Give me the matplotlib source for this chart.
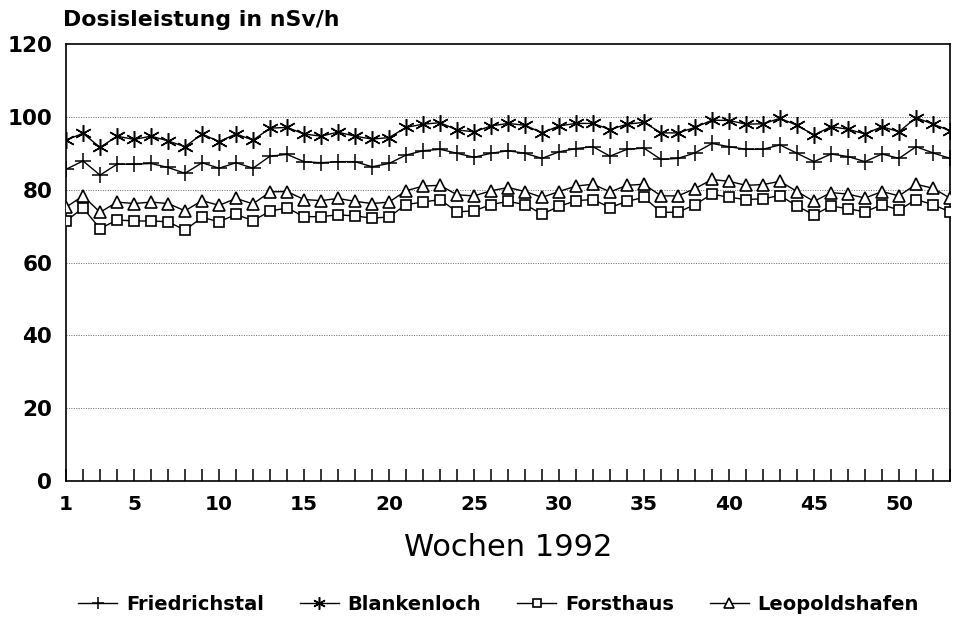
import matplotlib
matplotlib.use("Agg")
import matplotlib.pyplot as plt
import numpy as np

plt.rcParams['font.family'] = ['DejaVu Sans']

weeks = list(range(1, 54))

friedrichstal = [85.6, 87.9, 84.0, 87.0, 87.0, 87.2, 86.1, 84.5, 87.4, 85.9,
                 87.4, 85.9, 89.2, 89.7, 87.7, 87.4, 87.7, 87.7, 86.3, 87.2,
                 89.5, 90.7, 91.1, 90.0, 88.9, 90.0, 90.7, 90.0, 88.6, 90.4,
                 91.3, 91.8, 89.2, 91.1, 91.4, 88.3, 88.6, 90.1, 92.7, 91.8,
                 91.1, 91.1, 92.3, 90.0, 87.7, 89.8, 89.1, 87.7, 89.8, 88.6,
                 91.8, 90.1, 88.6]

blankenloch = [93.6, 95.5, 91.6, 94.7, 93.8, 94.7, 93.4, 91.8, 95.3, 93.2,
               95.3, 93.6, 96.9, 97.1, 95.3, 94.7, 95.8, 94.7, 93.9, 94.3,
               97.1, 98.0, 98.4, 96.4, 95.9, 97.5, 98.2, 97.7, 95.6, 97.5,
               98.2, 98.2, 96.5, 98.0, 98.5, 95.6, 95.6, 97.1, 99.1, 99.0,
               98.0, 98.1, 99.6, 97.7, 95.0, 97.3, 96.6, 95.3, 97.3, 95.9,
               99.8, 98.0, 96.2]

forsthaus = [71.4, 75.0, 69.3, 71.7, 71.4, 71.4, 71.2, 68.9, 72.4, 71.2,
             73.2, 71.5, 74.1, 75.0, 72.6, 72.6, 73.1, 72.8, 72.2, 72.5,
             75.9, 76.6, 77.3, 73.9, 74.2, 75.9, 76.8, 75.9, 73.3, 75.4,
             77.0, 77.3, 75.1, 76.8, 77.9, 73.8, 73.8, 75.9, 78.8, 77.9,
             77.3, 77.5, 78.4, 75.5, 73.1, 75.5, 74.8, 73.9, 75.9, 74.4,
             77.3, 75.9, 73.9]

leopoldshafen = [75.2, 78.3, 73.8, 76.6, 76.2, 76.6, 76.2, 74.2, 77.0, 75.7,
                 77.6, 76.1, 79.4, 79.5, 77.3, 77.0, 77.6, 76.8, 76.2, 76.6,
                 79.7, 81.0, 81.2, 78.6, 78.3, 79.7, 80.6, 79.5, 77.9, 79.5,
                 81.0, 81.5, 79.4, 81.2, 81.5, 78.3, 78.3, 80.3, 82.8, 82.3,
                 81.2, 81.4, 82.3, 79.5, 76.8, 79.2, 78.8, 77.7, 79.5, 78.3,
                 81.5, 80.4, 77.7]

series_names = ['Friedrichstal', 'Blankenloch', 'Forsthaus', 'Leopoldshafen']
xtick_labels = ['1', '5', '10', '15', '20', '25', '30', '35', '40', '45', '50']
ytick_values = [0, 20, 40, 60, 80, 100, 120]

fig = plt.figure(figsize=(9.57, 6.21), dpi=100)
ax = fig.add_axes([0.069, 0.2254, 0.9237, 0.7037])

styles = [
    dict(marker='+', markersize=12, markeredgewidth=1.1),
    dict(marker=(6, 2, 0), markersize=12, markeredgewidth=1.1),
    dict(marker='s', markersize=7.5, markerfacecolor='white', markeredgewidth=1.2),
    dict(marker='^', markersize=9, markerfacecolor='white', markeredgewidth=1.2),
]
data = [friedrichstal, blankenloch, forsthaus, leopoldshafen]
handles = []
for name, vals, st in zip(series_names, data, styles):
    h, = ax.plot(weeks, vals, color='black', linewidth=1.0, label=name,
                 markeredgecolor='black', zorder=3, **st)
    handles.append(h)

ax.set_xlim(1, 53)
ax.set_ylim(0, 120)

for y in ytick_values[1:-1]:
    ax.axhline(y, color='#666666', linestyle=(0, (1, 1.5)), linewidth=0.7, zorder=1)

ax.set_yticks(ytick_values)
ax.set_yticklabels([str(v) for v in ytick_values], fontsize=15.5, fontweight='bold')
ax.tick_params(axis='y', length=0, pad=10)

ax.set_xticks(weeks)
lab = [str(w) if str(w) in xtick_labels else '' for w in weeks]
ax.set_xticklabels(lab, fontsize=14.5, fontweight='bold')
ax.tick_params(axis='x', direction='in', length=9, width=1.1, pad=10)

for sp in ax.spines.values():
    sp.set_linewidth(1.2)

fig.text(0.066, 0.952, 'Dosisleistung in nSv/h', fontsize=15.8, fontweight='bold',
         ha='left', va='bottom')
fig.text(0.531, 1 - 556 / 621, 'Wochen 1992', fontsize=22, ha='center',
         va='baseline')

fig.legend(handles=handles, labels=series_names, loc='center',
           bbox_to_anchor=(0.521, 0.027), ncol=4, frameon=False,
           prop=dict(size=14, weight='bold'), handlelength=2.0,
           columnspacing=1.85, handletextpad=0.45, numpoints=1,
           markerscale=0.75, borderaxespad=0, borderpad=0)

fig.savefig('out.png', dpi=100)
